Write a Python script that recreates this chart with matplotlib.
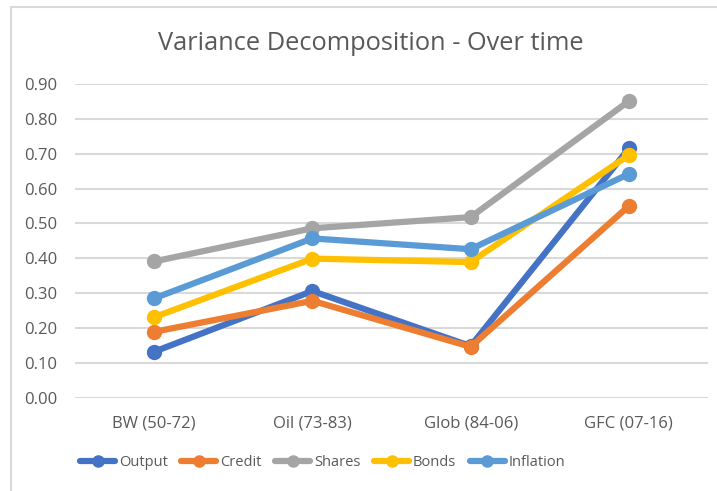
import matplotlib
matplotlib.use("Agg")
import matplotlib.pyplot as plt
from matplotlib.patches import Rectangle

periods = ["BW (50-72)", "Oil (73-83)", "Glob (84-06)", "GFC (07-16)"]
output = [0.132, 0.306, 0.148, 0.715]
credit = [0.189, 0.278, 0.146, 0.550]
shares = [0.391, 0.486, 0.518, 0.851]
bonds = [0.231, 0.399, 0.389, 0.696]
inflation = [0.285, 0.457, 0.426, 0.642]

series = [
    ("Output", output, "#4472C4"),
    ("Credit", credit, "#ED7D31"),
    ("Shares", shares, "#A5A5A5"),
    ("Bonds", bonds, "#FFC000"),
    ("Inflation", inflation, "#5B9BD5"),
]

plt.rcParams["font.family"] = ["Open Sans", "DejaVu Sans"]
txt = "#595959"
grid = "#D9D9D9"

fig = plt.figure(figsize=(7.17, 4.91), dpi=100)
# chart border (screenshot is cropped on right/bottom)
fig.patches.append(Rectangle((11 / 717, -0.1), 1.2, 1 - 7 / 491 + 0.1,
                             transform=fig.transFigure, fill=False,
                             edgecolor=grid, lw=1.5))

ax = fig.add_axes([75 / 717, 1 - 397.7 / 491, (708 - 75) / 717, (397.7 - 84) / 491])
x = range(len(periods))
for name, vals, col in series:
    ax.plot(x, vals, "-o", color=col, lw=4.5, ms=10, label=name,
            solid_capstyle="round", zorder=3)

ax.set_xlim(-0.5, 3.5)
ax.set_ylim(0, 0.9)
ax.set_yticks([i / 10 for i in range(10)])
ax.set_yticklabels(["%.2f" % (i / 10) for i in range(10)])
ax.set_xticks(list(x))
ax.set_xticklabels(periods)
ax.yaxis.grid(True, color=grid, lw=1.5)
ax.set_axisbelow(True)
for s in ax.spines.values():
    s.set_visible(False)
ax.tick_params(length=0, labelsize=12, colors=txt)
ax.tick_params(axis="y", pad=13)
ax.tick_params(axis="x", pad=13)

fig.text(371 / 717, 1 - 43 / 491, "Variance Decomposition - Over time",
         ha="center", va="center", fontsize=18.3, color=txt)

leg = fig.legend(loc="center left", bbox_to_anchor=(80 / 717, 1 - 463 / 491),
                 ncol=5, frameon=False, fontsize=10.5, handlelength=2.4,
                 handletextpad=0.25, columnspacing=0.95, borderpad=0,
                 borderaxespad=0, markerscale=0.8)
for t in leg.get_texts():
    t.set_color(txt)

fig.savefig("out.png", dpi=100)
